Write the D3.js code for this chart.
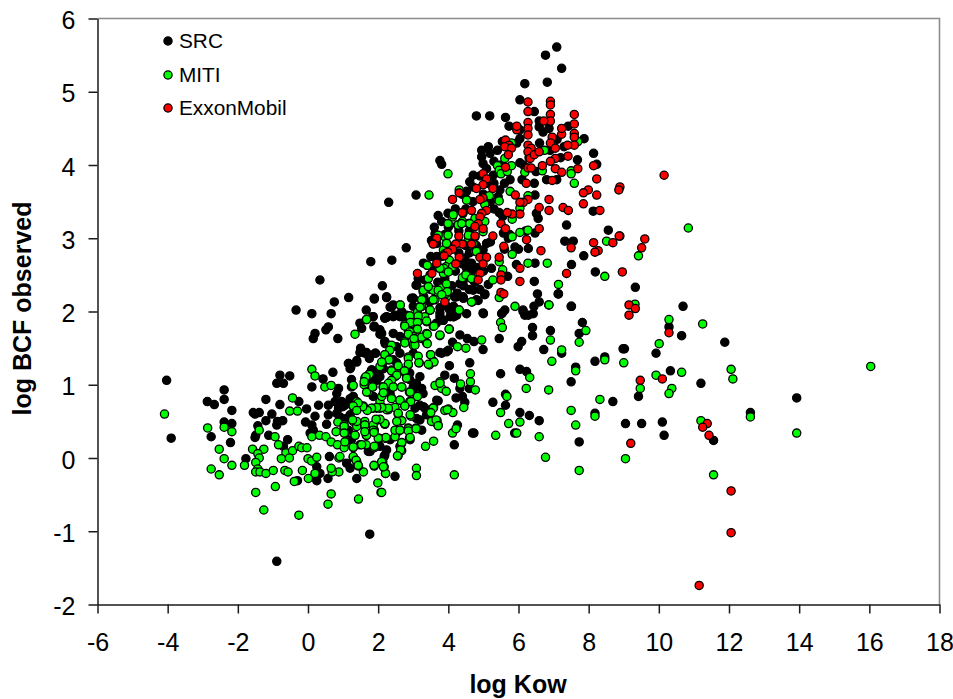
<!DOCTYPE html>
<html><head><meta charset="utf-8">
<script src="https://cdn.jsdelivr.net/npm/d3@7"></script>
<style>html,body{margin:0;background:#fff}svg{display:block}text{font-family:"Liberation Sans",Arial,sans-serif;fill:#000}</style>
</head><body><svg id="c" width="953" height="699"></svg>
<script>
const seriesNames=["SRC","MITI","ExxonMobil"];
const seriesColors=["#000000","#00ff00","#ff0000"];
const xTicks=[-6,-4,-2,0,2,4,6,8,10,12,14,16,18];
const yTicks=[-2,-1,0,1,2,3,4,5,6];
const src=[[-4.03,1.06],[-3.9,.27],[-2.39,.93],[-2.39,.8],[-2.87,.77],[-2.67,.73],[-2.17,.65],[-2.39,.49],[-2.17,.47],[-2.76,.29],[-2.21,.21],[-1.77,-.01],[-.8,1.13],[-.52,1.12],[-.89,1.02],[-.7,1.02],[-1.2,.8],[-.8,.73],[-1.56,.62],[-1.39,.62],[-1.51,.6],[-1.03,.6],[-1.2,.51],[-.87,.5],[-.72,.51],[-.89,.45],[-1.43,.44],[-1.49,.31],[-1.51,.28],[-1.12,.31],[-.58,.25],[-.7,.16],[-.34,2.02],[.11,1.97],[.66,1.97],[.75,2.13],[1.16,2.19],[1.89,2.17],[2.24,2.19],[1.66,2.02],[1.86,1.93],[2.19,1.91],[1.48,1.84],[1.89,1.8],[1.53,1.77],[.2,1.7],[.15,1.63],[.58,1.79],[.51,1.75],[.85,1.63],[2.07,1.69],[2.2,1.56],[1.51,1.48],[1.93,1.43],[1.75,1.36],[1.62,1.43],[1.39,1.33],[1.16,1.29],[1.2,1.22],[.71,1.17],[.43,1.08],[.11,.97],[.87,.95],[.82,.88],[1.24,1.07],[1.24,.97],[1.82,1.2],[1.86,1.07],[-.26,.77],[-.04,.67],[.3,.72],[.58,.72],[.77,.77],[.96,.72],[.87,.68],[.2,.57],[.58,.59],[.82,.61],[-.07,.49],[.11,.45],[.53,.46],[.15,.38],[.06,.34],[1.29,.84],[1.2,.59],[1.1,.54],[1.01,.47],[1.39,.75],[.61,.02],[1.1,-.07],[1.2,-.14],[1.39,-.28],[.57,-.28],[.25,-.12],[.34,-.21],[.25,-.31],[-.3,-.31],[1.77,.09],[2.17,.02],[1.76,-1.04],[-.89,-1.41],[2.2,.93],[2.05,1.11],[1.67,1.07],[2.34,1.02],[2.05,1.2],[2.34,.88],[2.24,.11],
[2.24,2.2],[2.43,2.09],[2.19,1.91],[3,2.18],[2.62,1.93],[3.76,1.98],[3.66,1.84],[3.85,1.88],[3.47,2.13],[4.19,2.2],[2.19,1.59],[2.52,1.52],[2.62,1.43],[2.43,1.34],[3,1.43],[2.9,1.16],[3.09,1.02],[3.28,.88],[3.19,.72],[3.33,.68],[3.09,.54],[3.24,.38],[2.52,.34],[2.19,.04],[2.62,.16],[2.05,1.75],[2.1,1.7],[3,1.73],[2.43,1.7],[2.62,1.66],[2.9,1.07],[3,.93],[2.05,.16],
[6.54,2.24],[7.13,2.24],[7.5,2.07],[5.61,2.02],[5.54,1.98],[6.13,2],[6.18,1.95],[6.42,1.97],[6.44,2.07],[6.59,2.13],[4.99,1.98],[5.04,2.24],[6.4,1.78],[6.4,1.67],[6.91,1.74],[7.82,1.85],[7.73,1.7],[5.45,1.63],[6.09,1.59],[5.99,1.52],[6.72,1.48],[7.23,1.43],[8.18,1.32],[8.46,1.38],[7.63,1.24],[6.04,1.21],[6.23,1.18],[5.49,1.15],[7.5,1.04],[5.63,.87],[5.63,.72],[5.27,.76],[8.69,.77],[8.18,.61],[6.04,.62],[6.31,.58],[6.59,.51],[5.89,.34],[4.69,.34],[4.73,.34],[7.73,.22],[4.17,.18],[2.48,-.25],[4.26,.45],[3.71,.78],[4.4,.84],[4.22,.82],[4.47,.76],[4.61,1.3],[4.03,1.26],[3.9,1.13],[4.17,1.09],[4.33,.95],[4.6,.95],[3.81,1.43],[3.95,1.45],[4.99,1.48],[4.33,1.68],[4.54,1.63],[4.73,1.59],[4.12,1.58],[4.16,1.93],[4.04,2.02],[4.42,2.2],[4.8,2.16],
[9.33,2.33],[10.69,2.07],[10.29,1.79],[10.65,1.67],[11.88,1.58],[8.98,1.49],[9.02,1.49],[9.92,1.43],[10.33,1.19],[11.2,1.02],[9.42,.84],[13.93,.82],[12.61,.62],[9.05,.47],[9.51,.47],[10.1,.49],[10.15,.31],[11.56,.24],
[7.09,5.61],[6.77,5.5],[7.23,5.32],[6.18,5.11],[6.82,5.13],[6.04,4.89],[6.45,4.73],[4.8,4.67],[5.18,4.67],[5.63,4.65],[5.73,4.53],[6.04,4.48],[6.59,4.6],[6.59,4.52],[6.87,4.5],[7.42,4.53],[7.87,4.36],[6.04,4.36],[5.95,4.3],[5.54,4.32],[5.14,4.25],[4.95,4.2],[5.4,4.2],[5.19,4.16],[4.95,4.11],[4.99,4.02],[5.09,3.95],[3.76,4.06],[3.81,4.01],[8.14,4.16],[8.23,4.01],[7.68,4.07],[6.04,4.03],[6.14,4],[6.5,3.91],[6.8,3.8],[7.09,3.8],[5.76,3.8],[4.71,3.86],[4.61,3.77],[5.28,3.86],[5.47,3.66],[4.52,3.64],[6.47,3.59],[5.42,3.57],[3.08,3.59],[2.3,3.49],[5.45,3.35],[3.71,3.31],[3.99,3.34],[3.81,3.23],[6.51,3.34],[6.56,3.27],[8.13,3.37],[7.37,3.18],[8.56,3.11],[5.57,3.07],[5.71,3],[6.47,3.07],[7.32,2.96],[7.56,2.96],[3.62,3.06],[3.52,2.97],[3.67,2.93],[5.09,2.93],[4.99,2.84],[6.28,2.86],[5.9,2.88],[2.8,2.87],[7.86,2.76],[1.79,2.68],[2.39,2.7],[3.29,2.66],[3.67,2.75],[6.47,2.66],[5.94,2.64],[7.51,2.64],[4.66,2.66],[4.47,2.73],[4.52,2.59],[5.23,2.59],[8.19,2.54],[.34,2.43],[2.12,2.35],[6.45,2.41],[5.69,2.48],[5.14,2.37],[4.43,2.35],[4.33,2.38],[3.08,2.36],[3.14,2.45],[7.14,2.24],[1.89,2.18],[5.04,2.23],[4.85,2.15],[4.19,2.2],[4.43,2.18],[3,2.18],[2.34,2.06],[5.52,1.97],[6.13,2.02],[6.28,1.95],[5,1.97],[7.51,2.07],[2.24,1.93],[2.43,1.93],[2.81,1.95],[3,2.07],[3.95,2.07],[4.15,2.07],[3.76,2.05],[4.05,1.93],[3.76,1.93],[4.52,1.97],[4.24,1.95],
[3.5,2.3],[3.7,2.4],[3.3,2.2],[4.1,2.35],[4.25,2.25],[4.6,2.3],[4.75,2.4],[4.9,2.3],[3.9,2.45],[4.2,2.55],[4.4,2.65],[4.8,2.6],[5,2.55],[4.3,2.8],[4.5,2.9],[4.8,2.9],[4.6,2.8],[5.2,2.95],[4.3,3.1],[4.6,3.1],[4.2,3.4],[4.5,3.4],[4.7,3.5],[5,3.6],[5.2,3.5],[5.3,3.4],[4.4,3.6],[4.7,3.7],[5.1,3.75],[4.9,3.85],[5.3,3.75],[5.5,4],[5.3,4.05],[5.6,3.75],[3.9,3.05],[4,3.15],[3.6,3.15],[3.8,2.75],[3.5,2.75],[3.6,2.6],[5.55,3.3],[5.75,3.05],[5.6,2.85],[6,2.85],[6.2,3.1],[6.1,3.8],[6.45,3.75],[6.3,4.1],[6.6,4.3],[6.9,4.2],[7.2,4.1],[6.7,4.45],[7.1,4.35],[7.3,4.25],
[2.95,2.18],[2.38,2.06],[2.24,1.92],[1.84,1.93],[1.88,1.79],[2.07,1.7],[2.48,1.95],[2.67,2],[2.72,1.93],[3.33,2.43],[3.1,2.36],[3.48,2.5],[3.57,2.93],[4.57,2.66],[4.71,2.57],[4.42,2.41],[4.23,2.2],[4.71,2.29],[4.14,1.93],[3.86,1.88],[4.05,2.02],
[2.05,1.69],[1.5,1.5],[1.67,1.44],[1.91,1.43],[1.48,1.44],[1.15,1.29],[1.22,1.24],[1.39,1.31],[2.19,1.59],[1.81,1.2],[1.96,1.16],[2.15,1.22],[1.96,1.06],[.96,.77],[1.05,.72],[.99,.7],[1.2,.81],[3.19,1.11],[3,.97],[3.24,.95],[3.29,.7],[3.05,.68],[3.19,.52],[3.38,.59],[3.67,.79],[2.53,1.3],[1.86,.84],[.91,.56],[1,.52],[3.76,1.44],[4,1.47],[1.15,.38],[1.24,.25],[1.48,.18],[1.72,.09],[2.91,.25],[2.34,.25]];
const miti=[[-4.09,.6],[-2.86,.41],[-2.39,.42],[-2.17,.36],[-2.53,.12],[-2.39,-.01],[-2.17,-.1],[-2.76,-.15],[-2.53,-.23],[-1.81,-.1],[-1.58,.12],[-1.26,.12],[-1.43,.06],[-1.39,0],[-1.49,-.06],[-1.43,-.15],[-1.49,-.19],[-1.37,-.19],[-1.2,-.21],[-.99,-.17],[-1.39,.38],[-.94,.29],[-.84,.18],[-.44,.82],[-.52,.64],[-.3,.64],[.11,1.21],[.2,1.12],[.48,.97],[.66,.99],[1.34,1.69],[1.66,1.89],[1.29,.99],[-.63,.07],[-.44,.1],[-.53,0],[-.76,-.01],[-.26,.16],[-.18,.14],[-.03,.14],[.11,.29],[.33,.31],[0,-.01],[.1,-.04],[.25,.01],[-.66,-.17],[-.57,-.19],[-.16,-.17],[-.39,-.32],[.01,-.28],[.2,-.21],[-.93,-.39],[-1.49,-.47],[-1.26,-.71],[-.26,-.78],[.66,-.49],[.57,-.63],[1.44,-.56],[1.99,-.34],[2.08,-.47],[1.58,-.19],[1.44,-.11],[1.39,-.05],[1.29,.01],[.88,-.19],[.69,-.19],[.66,-.14],[.88,0],[1.89,-.11],[2.12,-.06],[2.17,-.12],[2.21,-.21],[.51,.29],[.66,.22],[.84,.18],[1.07,.22],[1.03,.14],[1.29,.14],[1.66,.18],[1.89,.14],[.8,.36],[.85,.49],[1.03,.45],[1.03,.4],[1.34,.31],[1.66,.31],[1.89,.38],[1.62,.5],[1.62,.45],[1.29,.5],[1.39,.43],[1.86,.45],[2,.52],[2.19,.46],[2.03,.27],[2.22,.27],[1.06,.34],[1.39,.77],[1.48,.72],[1.58,.71],[1.85,.68],[1.96,.68],[2.13,.69],[2.29,.66],[1.72,.9],[1.85,.97],[1.6,1],[1.62,1.09],[1.75,1.15],[2.15,.97],[1.29,.7],[2.15,1.32],[2.29,1.34],[2.2,1.41],[2.05,.77],[2.1,.84],
[2.62,2.09],[3.24,2.07],[3.47,2.02],[3.28,2.27],[3.66,2.23],[3.95,2.2],[2.92,1.94],[3.11,1.95],[3.38,1.86],[2.76,1.82],[3.11,1.85],[2.86,1.74],[3.11,1.76],[3.57,1.8],[3.38,1.69],[3.24,1.63],[3,1.54],[3.38,1.57],[2.76,1.59],[2.38,1.54],[2.33,1.47],[2.29,1.35],[2.86,1.38],[2.86,1.27],[3.17,1.3],[2.05,1.25],[2.38,1.2],[2.76,1.17],[2.57,1.24],[2.48,1.11],[2.81,1.09],[2.43,.97],[2.67,.97],[2.14,.97],[2.38,.82],[2.62,.79],[2.9,.77],[3.11,.84],[2.89,.9],[2.05,.68],[2.48,.69],[2.76,.71],[2.24,.66],[2.57,.6],[2.93,.57],[2.67,.51],[2.19,.47],[2.62,.38],[2.86,.41],[3.08,.41],[2.19,.27],[2.89,.27],[2.48,.29],[2.67,.2],[2.67,.1],[2.57,.03],[2.13,-.05],[2.16,-.12],
[5.45,2.19],[6.86,2.09],[5.9,2.07],[5.49,1.85],[5.54,1.78],[7.92,1.74],[7.73,1.58],[6.91,1.61],[7.23,1.475],[6.95,1.32],[8.46,1.34],[7.63,1.19],[6.32,1.1],[6.22,.95],[6.86,.93],[5.67,.84],[5.49,.62],[8.32,.8],[8.18,.57],[7.5,.65],[7.63,.45],[6.04,.49],[5.72,.47],[5.95,.34],[6.59,.29],[5.35,.31],[6.77,.01],[7.73,-.17],[4.17,-.23],[3.09,-.14],[3.09,-.24],[2.21,-.21],[2.1,-.47],[3.35,.16],[3.58,.23],[4.12,.34],[4.22,.4],[3.71,.45],[3.62,.49],[3.68,.51],[3.58,.69],[3.49,.62],[4,.67],[3.9,.65],[4.13,.62],[4.44,.69],[4.77,.93],[4.63,1.04],[4.63,1.15],[4.35,1.01],[3.62,.99],[3.76,1.04],[3.81,.95],[3.94,.91],[3.58,1.32],[3.49,1.41],[3.46,1.27],[4.95,1.61],[4.5,1.5],[4.26,1.52],[4.03,1.76],[3.76,1.67],[4.31,2.02],[4.68,2.13],
[3.99,3.88],[3.45,3.59],[5.8,4.3],[6.74,4.2],[7.69,4.32],[5.61,4.09],[5.4,3.99],[5.45,3.93],[5.5,3.88],[5.68,3.91],[5.8,3.99],[6.18,3.9],[6.68,3.92],[7.5,3.92],[7.5,3.88],[7.59,3.75],[5.76,3.64],[6.27,3.58],[4.31,3.66],[4.52,3.53],[5.17,3.58],[5.45,3.51],[5.04,3.46],[6.04,3.41],[5.82,3.26],[6.04,3.08],[6.27,3.11],[5.82,3.02],[8.51,2.96],[4.12,3.29],[3.99,3.2],[4.4,3.23],[4.26,3.18],[4.58,3.2],[5.04,3.23],[4.76,3.27],[4.99,3.09],[3.99,3.05],[3.9,3.02],[4.58,3],[4.71,2.93],[3.95,2.93],[4.04,2.89],[3.86,2.84],[4.76,2.82],[5.82,2.78],[5.45,2.68],[5.55,2.57],[6.27,2.66],[6.82,2.66],[8.46,2.48],[3.4,2.63],[4.03,2.7],[3.93,2.61],[4.12,2.61],[3.99,2.54],[3.76,2.59],[3.86,2.52],[4.49,2.5],[4.67,2.46],[4.4,2.46],[5.27,2.43],[7.14,2.37],[3.43,2.45],[3.93,2.37],[3.81,2.32],[3.71,2.25],[3.57,2.29],[3.95,2.25],[3.29,2.29],[3.62,2.16],[3.24,2.15],[3.19,2.06],[3.12,1.99],[3.48,2.02],[4.66,2.13],[4.31,2.02],[2.63,2.09],[6.87,2.09],[3.33,1.93],[1.67,1.89],
[10.84,3.14],[9.42,2.76],[9.32,2.1],[10.29,1.89],[11.25,1.83],[10.01,1.56],[9,1.3],[12.06,1.21],[12.11,1.08],[16.04,1.25],[10.65,1.17],[9.92,1.13],[9.47,.95],[10.37,.95],[10.29,.88],[12.61,.56],[13.93,.34],[11.2,.51],[9.05,-.01],[11.56,-.23],
[3.99,3.2],[3.99,3.04],[3.4,2.63],[3.29,2.29],[3.43,2.34],[3.71,2.29],[3.95,2.375],[3.97,2.27],[3.81,2.23],[3.57,2.16],[3.24,2.16],[3.19,2.06],[3.48,2.02],[2.9,1.94],[3.14,1.94],[2.92,1.85],[2.76,1.8],[3.12,1.85],[3.38,1.87],[3.59,1.8],[3.12,1.76],[2.9,1.72],[4.02,1.76],[3.76,1.68],[3.38,1.7],[3.24,1.65],[3,1.66],[3.87,2.59],[4,2.54],[3.76,2.59],[4.05,2.88],[3.95,2.93],[3.9,2.79],[4.5,2.5],[4.66,2.45],[4.28,3.18],[4.38,3.2],[4.61,3.2],[4.42,3.34],[4.14,3.32],[4.52,3.52],[4.76,3.02],[4.8,2.82],[3.71,3.04],[4.57,3.04],
[2.76,1.57],[3.05,1.54],[3.4,1.69],[3.4,1.56],[2.86,1.69],[3.02,1.63],[2.86,1.36],[2.86,1.28],[3.14,1.39],[3.16,1.3],[3.5,1.41],[3.59,1.31],[3.43,1.28],[2.19,1.41],[2.31,1.34],[2.1,1.31],[1.75,1.14],[1.65,1.11],[1.6,1.04],[1.67,.9],[1.84,.97],[2.38,1.19],[2.57,1.26],[2.75,1.19],[2.53,1.13],[2.81,1.09],[2.38,1.06],[2.29,1.02],[2.43,.97],[2.67,.97],[2.15,.97],[2.15,.89],[2.38,.81],[2.62,.79],[2.91,.9],[2.93,.77],[3.12,.84],[2.76,.71],[2.57,.61],[2.91,.59],[2.29,.68],[2.1,.69],[1.96,.69],[1.81,.68],[1.69,.65],[1.56,.7],[1.43,.75],[1.29,.71],[1.39,.65],[2.67,.51],[2.53,.5],[2.19,.47],[2.05,.53],[1.94,.53],[2.48,.38],[2.62,.38],[2.86,.4],[2.86,.37],[3.08,.4],[2.91,.28],[2.22,.28],[2,.27],[1.89,.16],[1.67,.31],[1.53,.18],[1.34,.31],[1.62,.45],[1.62,.36],[1.39,.5],[1.27,.52],[1.86,.38],[1.88,.35],[1.03,.43],[1.03,.34],[1.05,.22],[1.29,.15],[1.29,.02],[1.37,-.03],[1.43,-.1],[.91,.02],[2.67,.21],[2.64,.11],[2.55,.03],[1.88,-.1],[2.1,-.05],[2.15,-.12],[3.52,.5],[3.65,.52],[3.71,.44],[3.57,.68],[3.5,.62],[3.76,1.02],[3.97,.66]];
const exxon=[[10.15,3.86],[9.6,2.99],[9.51,2.87],[8.89,3.03],[8.89,3.7],[8.86,3.66],[8.96,2.54],[9.15,2.09],[9.33,2.04],[9.15,1.95],[10.29,1.71],[10.1,1.08],[9.47,1.06],[11.38,.47],[11.25,.42],[11.43,.31],[9.2,.2],[12.06,-.45],[12.06,-1.02],[11.15,-1.74],
[6.27,4.86],[6.91,4.87],[6.91,4.82],[6.27,4.73],[6.91,4.69],[6.91,4.6],[6.72,4.6],[7.59,4.69],[7.59,4.56],[6.27,4.58],[6.27,4.5],[6.27,4.41],[5.95,4.48],[5.95,4.53],[7.23,4.42],[7.23,4.5],[6.96,4.38],[7.59,4.43],[7.59,4.38],[7.59,4.27],[7.4,4.27],[5.63,4.34],[5.73,4.27],[5.61,4.25],[5.8,4.23],[5.71,4.14],[6.27,4.27],[6.36,4.23],[6.27,4.18],[6.33,4.09],[6.45,4.14],[6.59,4.18],[6.91,4.3],[7.05,4.23],[7.05,4.09],[6.91,4.05],[7.41,4.12],[5.63,3.97],[6.27,3.96],[6.36,3.96],[6.68,3.99],[7.05,3.95],[7.23,3.9],[7.69,3.95],[8.14,3.99],[8.23,3.81],[6.96,3.79],[6.22,3.75],[7.99,3.66],[7.85,3.62],[8.23,3.59],[7.85,3.47],[6.87,3.53],[6.87,3.38],[6.59,3.42],[7.27,3.42],[7.42,3.38],[8.32,3.38],[4.99,3.88],[5.09,3.81],[4.99,3.73],[4.8,3.68],[5.27,3.68],[4.31,3.62],[4.12,3.53],[4.99,3.55],[4.9,3.53],[5.91,3.59],[6.27,3.53],[6.14,3.49],[6.04,3.49],[6.04,3.33],[5.82,3.33],[5.68,3.35],[4.66,3.38],[4.4,3.35],[5.09,3.38],[4.95,3.34],[4.9,3.29],[4.85,3.2],[4.76,3.16],[4.99,3.13],[5.5,3.2],[5.63,3.13],[6.59,3.13],[5.27,3.03],[4.3,3.03],[4.76,3.03],[3.67,3],[3.57,2.92],[4.4,2.92],[4.21,2.92],[4.12,2.85],[3.98,2.81],[3.88,2.76],[4.66,2.92],[6.23,2.98],[5.58,2.89],[7.5,2.87],[6.64,2.83],[8.14,2.94],[8.69,2.94],[8.87,3.03],[8.27,2.83],[8.18,2.81],[3.67,2.66],[4.31,2.74],[4.21,2.65],[4.9,2.74],[5.09,2.74],[4.99,2.65],[5.45,2.74],[6.04,2.59],[7.37,2.52],[3.12,2.52],[3.53,2.52],[4.9,2.52],[4.85,2.43],[5.5,2.5],[5.5,2.43],[6.04,2.41],[5.5,2.26],[5.58,2.24],[3.9,2.13]];
const allSeries=[src,miti,exxon];

const svg=d3.select("#c");
const x=d3.scaleLinear().domain([-6,18]).range([97.5,939.5]);
const y=d3.scaleLinear().domain([-2,6]).range([604.5,18.5]);

svg.append("path").attr("d",`M97.5,18.5H939.5V604.5`).attr("fill","none").attr("stroke","#8c8c8c").attr("stroke-width",1.6);

const gx=svg.append("g").attr("transform","translate(0,604.5)").call(d3.axisBottom(x).tickValues(xTicks).tickSize(9).tickSizeOuter(0).tickPadding(20).tickFormat(d=>String(d)));
const gy=svg.append("g").attr("transform","translate(97.5,0)").call(d3.axisLeft(y).tickValues(yTicks).tickSize(9).tickSizeOuter(0).tickPadding(13).tickFormat(d=>String(d)));
[gx,gy].forEach(g=>{g.selectAll("path.domain").attr("stroke","#1a1a1a").attr("stroke-width",1.5);
 g.selectAll(".tick line").attr("stroke","#1a1a1a").attr("stroke-width",1.5);
 g.selectAll("text").style("font-size","25px").style("font-family","'Liberation Sans',Arial,sans-serif").attr("fill","#000");});
gy.selectAll("text").attr("dy",".4em");

allSeries.forEach((s,i)=>{
 svg.append("g").selectAll("circle").data(s).join("circle")
  .attr("cx",d=>x(d[0])).attr("cy",d=>y(d[1])).attr("r",4.1)
  .attr("fill",seriesColors[i]).attr("stroke","#000").attr("stroke-width",1.3);
});

const legendY=[41,75,108];
seriesNames.forEach((n,i)=>{
 svg.append("circle").attr("cx",168).attr("cy",legendY[i]).attr("r",4.1).attr("fill",seriesColors[i]).attr("stroke","#000").attr("stroke-width",1.3);
 svg.append("text").attr("x",179).attr("y",legendY[i]+7.3).attr("font-size",20.8).text(n);
});
svg.append("text").attr("x",518).attr("y",693).attr("text-anchor","middle").attr("font-size",25).attr("font-weight","bold").text("log Kow");
svg.append("text").attr("transform","translate(31,308.5) rotate(-90)").attr("text-anchor","middle").attr("font-size",25).attr("font-weight","bold").text("log BCF observed");
</script></body></html>
